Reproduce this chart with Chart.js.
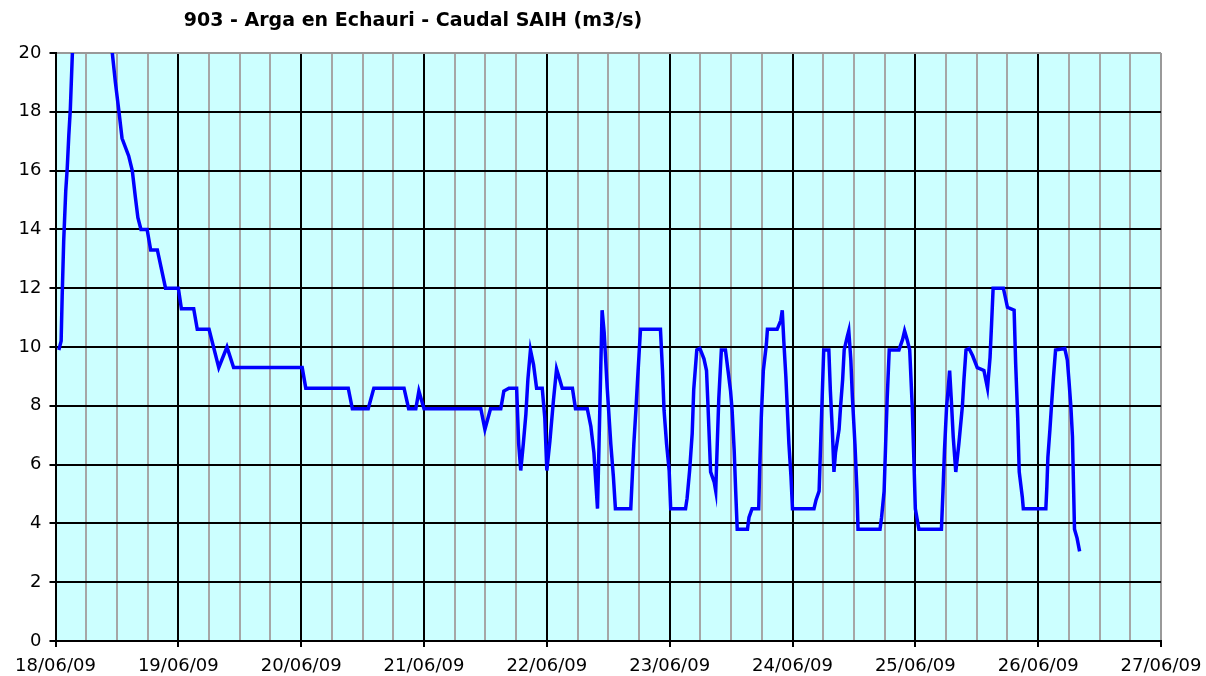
<!DOCTYPE html>
<html>
<head>
<meta charset="utf-8">
<title>903 - Arga en Echauri - Caudal SAIH</title>
<script src="https://cdn.jsdelivr.net/npm/chart.js@4/dist/chart.umd.min.js"></script>
<style>
    html, body { margin: 0; padding: 0; background: #fff; }
    #wrap { width: 1206px; height: 676px; position: relative; }
</style>
</head>
<body>
<div id="wrap"><canvas id="caudalChart"></canvas></div>
<script>
// Etiquetas de los días (cada 24 h desde el 18/06/09 00:00)
const dias = ['18/06/09', '19/06/09', '20/06/09', '21/06/09', '22/06/09',
              '23/06/09', '24/06/09', '25/06/09', '26/06/09', '27/06/09'];

// Horas transcurridas desde 18/06/09 00:00
const horas = [
    0.65, 1.1, 1.3, 1.6, 2.0, 2.3, 2.6, 2.9, 3.3, 4.0, 5.0, 6.0, 7.0, 8.0, 9.0, 10.0,
    11.1, 11.7, 12.4, 13.0, 14.3, 15.0, 15.6, 16.1, 16.7, 17.9, 18.6, 19.9, 21.5,
    24.0, 24.6, 27.0, 27.7, 30.0, 31.9, 33.5, 34.8, 48.2, 48.9, 57.2, 58.0, 61.1,
    62.2, 68.1, 69.0, 70.4, 71.0, 72.0, 83.1, 83.9, 85.0, 87.0, 87.6, 88.6, 90.1,
    90.5, 90.9, 91.4, 91.9, 92.3, 92.8, 93.4, 94.0, 95.1, 95.6, 96.0, 96.6, 97.3,
    97.9, 98.5, 99.0, 101.0, 101.6, 103.9, 104.6, 105.2, 105.9, 106.2, 106.5, 106.8,
    107.2, 107.8, 108.5, 109.0, 109.4, 112.4, 112.7, 113.0, 113.4, 113.7, 114.0,
    114.3, 118.2, 118.6, 118.9, 119.4, 119.9, 120.2, 123.1, 123.4, 123.9, 124.4,
    124.7, 125.3, 125.9, 126.7, 127.2, 127.5, 128.0, 128.7, 129.0, 129.3, 129.6,
    130.1, 130.9, 131.4, 131.9, 132.2, 132.6, 132.9, 133.2, 135.2, 135.5, 136.1,
    137.4, 137.6, 137.9, 138.3, 138.9, 139.1, 141.0, 141.7, 142.0, 142.3, 142.7,
    143.3, 143.7, 144.0, 148.2, 148.6, 149.2, 149.5, 149.8, 150.1, 151.1, 151.4,
    151.8, 152.1, 152.4, 153.1, 153.4, 153.8, 154.1, 154.7, 155.0, 155.4, 155.7,
    156.2, 156.6, 156.8, 161.1, 161.4, 161.9, 162.2, 162.5, 162.9, 164.8, 165.5,
    165.9, 166.4, 166.9, 167.4, 167.7, 168.0, 168.7, 173.1, 173.4, 173.7, 174.1,
    174.4, 174.7, 175.0, 175.4, 175.9, 176.5, 177.2, 177.5, 177.9, 178.5, 179.2,
    180.1, 181.4, 182.1, 182.6, 182.9, 183.2, 185.2, 186.0, 187.3, 187.6, 188.0,
    188.3, 188.9, 189.1, 193.5, 193.7, 193.9, 194.3, 194.6, 195.0, 195.4, 197.2,
    197.7, 198.0, 198.4, 198.7, 198.9, 199.1, 199.6, 200.1
];

// Caudal en m3/s
const caudal = [
    9.9, 10.2, 11.7, 13.6, 15.3, 16.1, 17.2, 18.1, 20.0, 23.0, 26.5, 28.0, 27.6, 25.9, 23.8, 21.9,
    20.0, 19.0, 18.0, 17.1, 16.5, 16.0, 15.1, 14.4, 14.0, 14.0, 13.3, 13.3, 12.0,
    12.0, 11.3, 11.3, 10.6, 10.6, 9.3, 10.0, 9.3, 9.3, 8.6, 8.6, 7.9, 7.9,
    8.6, 8.6, 7.9, 7.9, 8.5, 7.9, 7.9, 7.2, 7.9, 7.9, 8.5, 8.6, 8.6,
    6.7, 5.8, 6.7, 7.7, 8.9, 9.9, 9.4, 8.6, 8.6, 7.6, 5.8, 6.8, 8.2,
    9.25, 8.9, 8.6, 8.6, 7.9, 7.9, 7.3, 6.4, 4.5, 6.7, 9.0, 11.25,
    10.5, 8.6, 6.7, 5.6, 4.5, 4.5, 5.6, 6.7, 7.85, 8.8, 9.7,
    10.6, 10.6, 9.2, 7.85, 6.7, 5.8, 4.5, 4.5, 4.85, 5.8, 7.05,
    8.55, 9.9, 9.95, 9.6, 9.2, 7.95, 5.75, 5.4, 5.1, 6.7, 8.25,
    9.9, 9.9, 9.2, 8.5, 7.85, 6.5, 5.1, 3.8, 3.8, 4.2, 4.5,
    4.5, 5.9, 7.6, 9.2, 10.1, 10.6, 10.6, 10.9, 11.25, 10.2, 9.0,
    6.7, 5.6, 4.5, 4.5, 4.8, 5.1, 6.7, 8.3, 9.9, 9.9, 8.5,
    7.1, 5.75, 6.4, 7.2, 8.0, 8.9, 9.9, 10.35, 10.55, 9.55, 8.3,
    6.7, 5.1, 3.8, 3.8, 4.2, 5.1, 6.7, 8.25, 9.9, 9.9, 10.25,
    10.55, 10.25, 9.9, 7.95, 6.25, 4.5, 3.8, 3.8, 5.1, 6.5, 7.95,
    8.55, 9.2, 8.3, 6.95, 5.75, 6.7, 8.0, 8.9, 9.9, 9.95, 9.7,
    9.3, 9.2, 8.6, 9.65, 10.8, 12.0, 12.0, 11.35, 11.25, 9.45, 7.6,
    5.75, 4.9, 4.5, 4.5, 5.25, 6.25, 7.2, 8.0, 9.0, 9.9, 9.95,
    9.55, 8.9, 7.95, 6.95, 5.35, 3.8, 3.5, 3.05
];

const titulo = '903 - Arga en Echauri - Caudal SAIH (m3/s)';
const FUENTE = "'DejaVu Sans', Verdana, sans-serif";

// fondo cian del área de trazado
const fondoArea = {
    id: 'fondoArea',
    beforeDraw(chart) {
        const { ctx, chartArea: a } = chart;
        ctx.save();
        ctx.fillStyle = '#CCFFFF';
        ctx.fillRect(a.left, a.top, a.right - a.left, a.bottom - a.top);
        ctx.restore();
    }
};

// título desplazado a la izquierda, como en el gráfico original de la hoja
const tituloFijo = {
    id: 'tituloFijo',
    afterDraw(chart) {
        const ctx = chart.ctx;
        ctx.save();
        ctx.font = "bold 19px " + FUENTE;
        ctx.fillStyle = '#000';
        ctx.textAlign = 'center';
        ctx.textBaseline = 'middle';
        ctx.fillText(titulo, 413, 21);
        ctx.restore();
    }
};

const puntos = horas.map((h, i) => ({ x: h, y: caudal[i] }));

new Chart(document.getElementById('caudalChart'), {
    type: 'line',
    data: {
        datasets: [{
            label: 'Caudal',
            data: puntos,
            borderColor: '#0000FF',
            borderWidth: 3.5,
            pointRadius: 0,
            tension: 0,
            fill: false
        }]
    },
    options: {
        responsive: true,
        maintainAspectRatio: false,
        animation: false,
        layout: { padding: { top: 53, right: 45, left: 0, bottom: 0 } },
        plugins: {
            legend: { display: false },
            tooltip: { enabled: false },
            title: { display: false }
        },
        scales: {
            x: {
                type: 'linear',
                min: 0,
                max: 216,
                afterFit: (s) => {
                    // alto fijo y sin reservar margen extra por la última etiqueta
                    s.height = 35;
                    s.paddingLeft = 0;
                    s.paddingRight = 0;
                },
                ticks: {
                    stepSize: 6,
                    autoSkip: false,
                    maxRotation: 0,
                    padding: 9,
                    color: '#000',
                    font: { family: FUENTE, size: 18 },
                    callback: (v) => (v % 24 === 0 ? dias[v / 24] : '')
                },
                grid: {
                    lineWidth: 2,
                    tickLength: 6,
                    color: (c) => {
                        const v = c.tick.value;
                        if (v === 216) return '#999999';
                        return v % 24 === 0 ? '#000000' : '#A6A6A6';
                    },
                    tickColor: (c) => (c.tick.value % 24 === 0 ? '#000000' : 'rgba(0,0,0,0)')
                },
                border: { color: '#000', width: 2 }
            },
            y: {
                min: 0,
                max: 20,
                afterFit: (s) => { s.width = 55.5; },
                ticks: {
                    stepSize: 2,
                    padding: 8,
                    color: '#000',
                    font: { family: FUENTE, size: 18 }
                },
                grid: {
                    lineWidth: 2,
                    tickLength: 6,
                    color: (c) => (c.tick.value === 20 ? '#999999' : '#000000'),
                    tickColor: '#000000'
                },
                border: { color: '#000', width: 2 }
            }
        }
    },
    plugins: [fondoArea, tituloFijo]
});
</script>
</body>
</html>
